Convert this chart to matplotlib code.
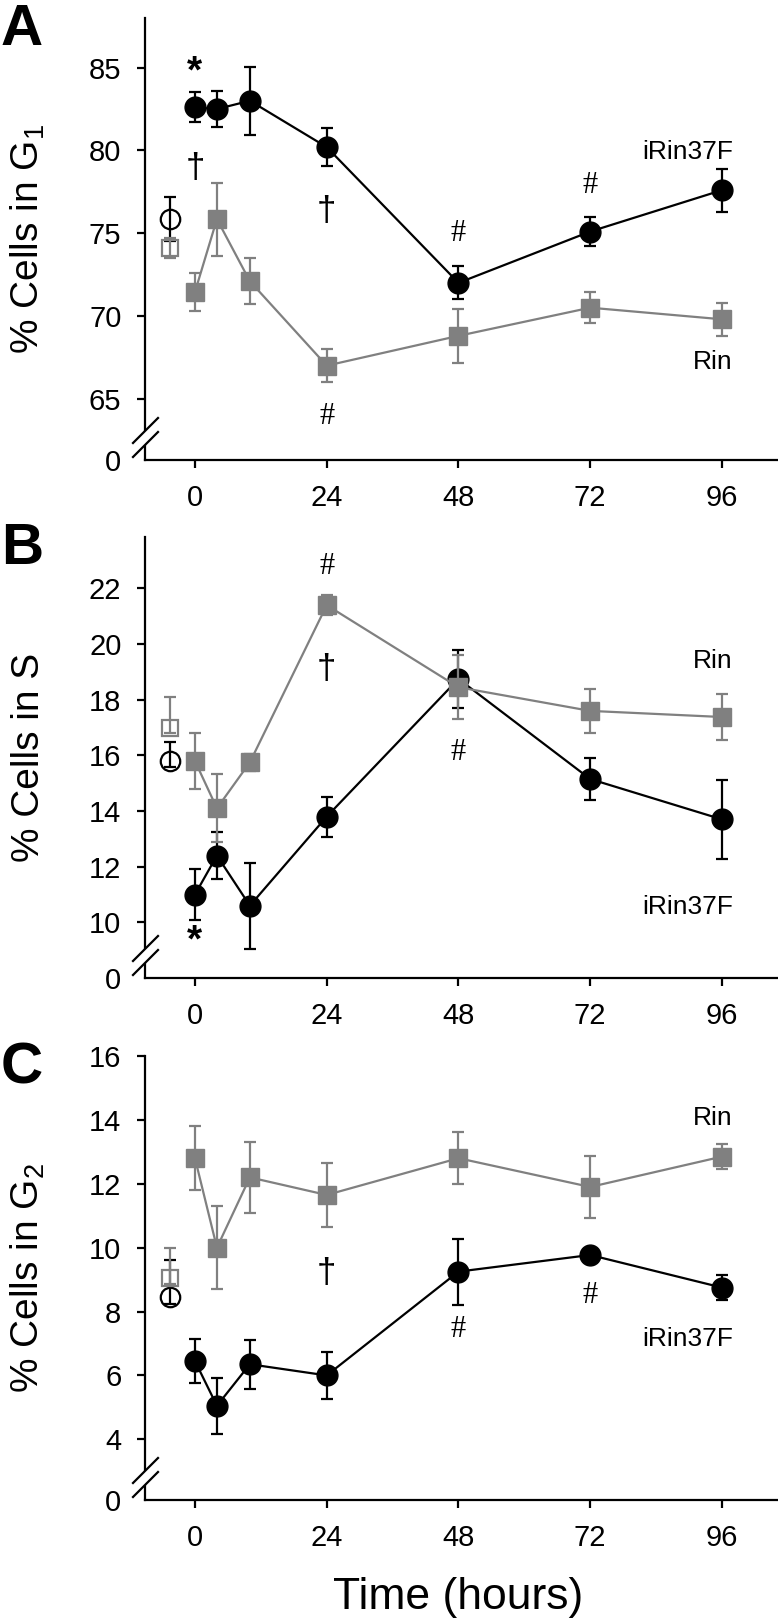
import matplotlib
matplotlib.use("Agg")
import matplotlib.pyplot as plt
from matplotlib.patches import Polygon

plt.rcParams['font.family'] = ['Liberation Sans', 'DejaVu Sans']
plt.rcParams['mathtext.fontset'] = 'custom'
plt.rcParams['mathtext.rm'] = 'Liberation Sans'
plt.rcParams['mathtext.it'] = 'Liberation Sans'

# time points (hours) and baseline position
times = [0, 4, 10, 24, 48, 72, 96]
base_t = -4.5
xticks = [0, 24, 48, 72, 96]

# panel A: % cells in G1
g1_irin = [82.6, 82.5, 83.0, 80.2, 72.0, 75.1, 77.6]
g1_irin_err = [0.9, 1.1, 2.05, 1.15, 1.0, 0.9, 1.3]
g1_rin = [71.45, 75.85, 72.1, 67.0, 68.8, 70.5, 69.8]
g1_rin_err = [1.15, 2.2, 1.4, 1.0, 1.65, 0.95, 1.0]
g1_base_irin, g1_base_irin_err = 75.85, (1.35, 1.35)   # (lower, upper)
g1_base_rin, g1_base_rin_err = 74.1, (0.6, 0.6)
g1_ticks = [65, 70, 75, 80, 85]

# panel B: % cells in S
s_irin = [11.0, 12.4, 10.6, 13.8, 18.75, 15.15, 13.7]
s_irin_err = [0.9, 0.83, 1.55, 0.72, 1.05, 0.75, 1.42]
s_rin = [15.8, 14.1, 15.75, 21.4, 18.45, 17.6, 17.38]
s_rin_err = [1.0, 1.22, 0.3, 0.35, 1.15, 0.8, 0.83]
s_base_irin, s_base_irin_err = 15.8, (0.2, 0.68)
s_base_rin, s_base_rin_err = 17.0, (0.2, 1.1)
s_ticks = [10, 12, 14, 16, 18, 20, 22]

# panel C: % cells in G2
g2_irin = [6.45, 5.05, 6.35, 6.0, 9.25, 9.77, 8.75]
g2_irin_err = [0.68, 0.88, 0.76, 0.73, 1.03, 0.15, 0.38]
g2_rin = [12.8, 10.0, 12.2, 11.65, 12.8, 11.9, 12.85]
g2_rin_err = [1.0, 1.3, 1.1, 1.0, 0.82, 0.98, 0.4]
g2_base_irin, g2_base_irin_err = 8.45, (0.2, 1.15)
g2_base_rin, g2_base_rin_err = 9.05, (0.2, 0.93)
g2_ticks = [4, 6, 8, 10, 12, 14, 16]

# significance marks (x, y, symbol)
g1_marks = [(0, 84.7, '*'), (0, 78.9, '†'), (24, 76.3, '†'), (24, 63.9, '#'),
            (48, 75.0, '#'), (72, 77.9, '#')]
s_marks = [(0, 9.3, '*'), (24, 22.8, '#'), (24, 19.1, '†'), (48, 16.1, '#')]
g2_marks = [(24, 9.2, '†'), (48, 7.45, '#'), (72, 8.5, '#')]

gray = '#808080'

fig = plt.figure(figsize=(7.78, 16.19), dpi=100)
W, H = 778.0, 1619.0

panels = [
    dict(letter='A', top=18, bottom=460, ylim=(61.3, 88.0), ticks=g1_ticks,
         label=r'% Cells in G$_1$', irin=g1_irin, irin_err=g1_irin_err,
         rin=g1_rin, rin_err=g1_rin_err,
         bi=(g1_base_irin, g1_base_irin_err), br=(g1_base_rin, g1_base_rin_err),
         marks=g1_marks, lab_irin=79.9, lab_rin=67.2),
    dict(letter='B', top=537, bottom=978, ylim=(8.0, 23.85), ticks=s_ticks,
         label='% Cells in S', irin=s_irin, irin_err=s_irin_err,
         rin=s_rin, rin_err=s_rin_err,
         bi=(s_base_irin, s_base_irin_err), br=(s_base_rin, s_base_rin_err),
         marks=s_marks, lab_irin=10.55, lab_rin=19.4),
    dict(letter='C', top=1056, bottom=1500, ylim=(2.1, 16.0), ticks=g2_ticks,
         label=r'% Cells in G$_2$', irin=g2_irin, irin_err=g2_irin_err,
         rin=g2_rin, rin_err=g2_rin_err,
         bi=(g2_base_irin, g2_base_irin_err), br=(g2_base_rin, g2_base_rin_err),
         marks=g2_marks, lab_irin=7.15, lab_rin=14.05),
]

left_px = 145
for p in panels:
    hpx = p['bottom'] - p['top']
    ax = fig.add_axes([left_px / W, 1 - p['bottom'] / H, (W - left_px) / W, hpx / H])

    ax.errorbar(times, p['irin'], yerr=p['irin_err'], fmt='-o', color='k', ms=15,
                lw=1.6, elinewidth=1.6, capsize=4, capthick=1.6, zorder=3)
    lo, hi = p['bi'][1]
    ax.errorbar([base_t], [p['bi'][0]], yerr=[[lo], [hi]], fmt='o', color='k', ms=14,
                mfc='none', mew=1.6, elinewidth=1.6, capsize=4, capthick=1.6, zorder=3)
    ax.errorbar(times, p['rin'], yerr=p['rin_err'], fmt='-s', color=gray, ms=13,
                lw=1.6, elinewidth=1.6, capsize=4, capthick=1.6, zorder=4)
    lo, hi = p['br'][1]
    ax.errorbar([base_t], [p['br'][0]], yerr=[[lo], [hi]], fmt='s', color=gray, ms=12,
                mfc='none', mew=1.6, elinewidth=1.6, capsize=4, capthick=1.6, zorder=4)

    for x, y, s in p['marks']:
        if s == '*':
            ax.text(x, y, s, ha='center', va='center', fontsize=28, fontweight='bold')
        elif s == '#':
            ax.text(x, y, s, ha='center', va='center', fontsize=22,
                    family=['Liberation Serif', 'DejaVu Serif'])
        else:
            ax.text(x, y, s, ha='center', va='center', fontsize=25)

    ax.text(98, p['lab_irin'], 'iRin37F', ha='right', va='center', fontsize=19)
    ax.text(98, p['lab_rin'], 'Rin', ha='right', va='center', fontsize=19)

    ax.set_xlim(-9.1, 106.2)
    ax.set_ylim(*p['ylim'])
    ax.set_xticks(xticks)
    ax.set_xticklabels([str(t) for t in xticks])
    ax.set_yticks([p['ylim'][0]] + p['ticks'])
    ax.set_yticklabels(['0'] + [str(t) for t in p['ticks']])
    ax.yaxis.get_major_ticks()[0].tick1line.set_visible(False)
    ax.tick_params(axis='both', direction='out', length=6, width=1.6, labelsize=21, pad=11)
    for sp in ['top', 'right']:
        ax.spines[sp].set_visible(False)
    for sp in ['left', 'bottom']:
        ax.spines[sp].set_linewidth(1.6)

    ax.set_ylabel(p['label'], fontsize=28)
    ax.yaxis.set_label_coords(-0.155, 0.5)

    # axis break marks
    aw = W - left_px
    x0, x1 = -12 / aw, 13 / aw
    ya0, ya1 = 3 / hpx, 28 / hpx
    yb0, yb1 = 17 / hpx, 42 / hpx
    ax.add_patch(Polygon([(x0, ya0), (x1, ya1), (x1, yb1), (x0, yb0)], closed=True,
                         transform=ax.transAxes, facecolor='white', edgecolor='none',
                         clip_on=False, zorder=5))
    ax.plot([x0, x1], [ya0, ya1], transform=ax.transAxes, color='k', lw=1.6,
            clip_on=False, zorder=6)
    ax.plot([x0, x1], [yb0, yb1], transform=ax.transAxes, color='k', lw=1.6,
            clip_on=False, zorder=6)

    fig.text(22 / W, 1 - (p['top'] + 12) / H, p['letter'], ha='center', va='center',
             fontsize=42, fontweight='bold')

fig.text((195 + 722) / 2 / W, 1 - 1597 / H, 'Time (hours)', ha='center', va='center',
         fontsize=32)

fig.savefig('out.png', dpi=100)
